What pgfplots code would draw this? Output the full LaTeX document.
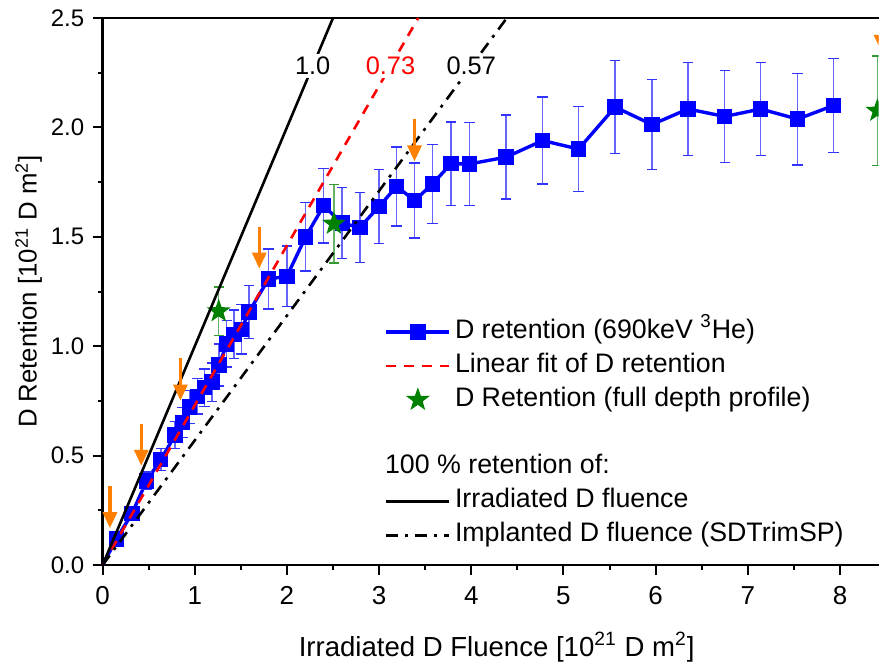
\documentclass[border=0pt]{standalone}
\usepackage{fontspec}
\setmainfont{Liberation Sans}
\usepackage{pgfplots}
\pgfplotsset{compat=1.18}
\usepackage{pgfplotstable}
\usetikzlibrary{arrows.meta,calc}
\definecolor{dblue}{RGB}{0,0,255}
\definecolor{dred}{RGB}{255,0,0}
\definecolor{dgreen}{RGB}{0,128,0}
\definecolor{darrow}{RGB}{255,128,0}

% filled five-pointed star
\pgfdeclareplotmark{fstar}{%
  \pgfpathmoveto{\pgfpointpolar{90}{\pgfplotmarksize}}%
  \pgfpathlineto{\pgfpointpolar{126}{0.4\pgfplotmarksize}}%
  \pgfpathlineto{\pgfpointpolar{162}{\pgfplotmarksize}}%
  \pgfpathlineto{\pgfpointpolar{198}{0.4\pgfplotmarksize}}%
  \pgfpathlineto{\pgfpointpolar{234}{\pgfplotmarksize}}%
  \pgfpathlineto{\pgfpointpolar{270}{0.4\pgfplotmarksize}}%
  \pgfpathlineto{\pgfpointpolar{306}{\pgfplotmarksize}}%
  \pgfpathlineto{\pgfpointpolar{342}{0.4\pgfplotmarksize}}%
  \pgfpathlineto{\pgfpointpolar{18}{\pgfplotmarksize}}%
  \pgfpathlineto{\pgfpointpolar{54}{0.4\pgfplotmarksize}}%
  \pgfpathclose\pgfusepathqfill}

\pgfplotsset{
  longlegend/.style={legend image code/.code={\draw[mark repeat=2,mark phase=2,##1] plot coordinates {(0pt,0pt) (15.75pt,0pt) (31.5pt,0pt)};}},
  starlegend/.style={legend image code/.code={\draw[##1] plot coordinates {(15.75pt,0pt)};}},
}

% D retention measured with 690 keV 3He NRA
\pgfplotstableread{
x      y      e
0.15   0.12   0.013
0.32   0.236  0.025
0.477  0.385  0.040
0.632  0.482  0.050
0.787  0.594  0.062
0.866  0.651  0.068
0.946  0.722  0.076
1.029  0.772  0.081
1.108  0.811  0.085
1.188  0.836  0.088
1.264  0.914  0.096
1.347  1.011  0.106
1.426  1.054  0.111
1.506  1.077  0.113
1.589  1.157  0.121
1.80   1.307  0.137
2.0    1.320  0.138
2.203  1.500  0.156
2.398  1.642  0.170
2.596  1.563  0.163
2.791  1.543  0.160
3.0    1.639  0.170
3.19   1.730  0.180
3.386  1.666  0.172
3.58   1.742  0.180
3.78   1.834  0.190
3.98   1.833  0.190
4.377  1.864  0.192
4.774  1.940  0.198
5.164  1.901  0.195
5.56   2.093  0.212
5.96   2.013  0.205
6.35   2.084  0.212
6.75   2.050  0.210
7.14   2.084  0.212
7.54   2.038  0.209
7.93   2.100  0.214
}\retention

% full depth profile
\pgfplotstableread{
x      y      e
1.26   1.160  0.110
2.51   1.560  0.180
8.405  2.076  0.250
}\fullprofile

% arrows marking the samples
\pgfplotstableread{
x      y      u   v
0.08   0.360  0   -0.191
0.42   0.645  0   -0.191
0.845  0.945  0   -0.193
1.70   1.545  0   -0.190
3.384  2.040  0   -0.195
8.445  2.545  0   -0.195
}\arrows

\begin{document}
\fontsize{12}{14}\selectfont
\begin{tikzpicture}
\begin{axis}[
  scale only axis,
  width=388.65pt, height=274pt,
  xmin=0, xmax=8.42,
  ymin=0, ymax=2.5,
  clip marker paths=true,
  axis x line=box, axis y line=left,
  axis line style={line width=1.3pt, -},
  every non boxed y axis/.append style={y axis line style={-}},
  xtick={0,1,...,8},
  ytick={0,0.5,...,2.5},
  minor x tick num=1, minor y tick num=1,
  tick align=outside,
  xtick pos=left, ytick pos=left,
  major tick length=5pt, minor tick length=2.5pt,
  every tick/.style={black, line width=1pt},
  yticklabel style={/pgf/number format/.cd, fixed, fixed zerofill, precision=1},
  xticklabel style={font=\fontsize{13}{15}\selectfont, yshift=-1.5pt},
  /pgf/number format/assume math mode=true,
  xlabel={Irradiated D Fluence [10\textsuperscript{21} D m\textsuperscript{2}]},
  ylabel={D Retention [10\textsuperscript{21} D m\textsuperscript{2}]},
  every axis x label/.style={at={(rel axis cs:0.5,0)}, yshift=-41pt, xshift=3pt, anchor=center,
    font=\fontsize{13.8}{15}\selectfont},
  every axis y label/.style={at={(rel axis cs:0,0.5)}, xshift=-37pt, rotate=90, anchor=center,
    font=\fontsize{12.9}{15}\selectfont},
  longlegend,
  legend style={at={(rel axis cs:0.363,0.458)}, anchor=north west, draw=none, fill=none,
    inner sep=0pt, cells={anchor=west}, font=\fontsize{13.4}{15}\selectfont,
    nodes={text height=8.8pt, text depth=2.6pt, inner ysep=2.8pt}},
]
\addplot[forget plot, dblue, line width=1.7pt]
  coordinates {(0,0) (0.15,0.12)};
\addplot[dblue, line width=1.7pt, mark=square*, mark size=3pt,
  mark options={solid, fill=dblue},
  error bars/.cd, y dir=both, y explicit,
  error bar style={line width=0.7pt, dblue!60},
  error mark options={rotate=90, mark size=2.6pt, line width=0.7pt, dblue!80}]
  table[x=x, y=y, y error=e] {\retention};
\addlegendentry{D retention (690keV \textsuperscript{3}He)}

\addplot[dred, line width=1.3pt, dash pattern=on 5pt off 4pt]
  coordinates {(0,0) (3.425,2.5)}
  node[pos=0.912, fill=white, inner sep=1.5pt, text=dred, font=\fontsize{12.7}{14}\selectfont] {0.73};
\addlegendentry{Linear fit of D retention}

\addplot[only marks, dgreen, mark=fstar, mark size=6.3pt, starlegend,
  error bars/.cd, y dir=both, y explicit,
  error bar style={line width=0.7pt, dgreen!60},
  error mark options={rotate=90, mark size=2.6pt, line width=0.7pt, dgreen!80}]
  table[x=x, y=y, y error=e] {\fullprofile};
\addlegendentry{D Retention (full depth profile)}

\addlegendimage{empty legend}
\addlegendentry{}
\addlegendimage{empty legend}
\addlegendentry{\hspace*{-35pt}100 \% retention of:}

\addplot[black, line width=1.3pt]
  coordinates {(0,0) (2.5,2.5)}
  node[pos=0.912, fill=white, inner sep=1.5pt, font=\fontsize{12.7}{14}\selectfont] {1.0};
\addlegendentry{Irradiated D fluence}

\addplot[black, line width=1.3pt, dash pattern=on 6pt off 3.5pt on 1.5pt off 3.5pt]
  coordinates {(0,0) (4.386,2.5)}
  node[pos=0.912, fill=white, inner sep=1.5pt, font=\fontsize{12.7}{14}\selectfont] {0.57};
\addlegendentry{Implanted D fluence (SDTrimSP)}

\addplot[forget plot, darrow, line width=1.6pt, -{Triangle[width=7pt,length=8pt]},
  quiver={u=\thisrow{u}, v=\thisrow{v}}]
  table[x=x, y=y] {\arrows};
\end{axis}
\path ($(current axis.south west)+(-51.35pt,-48pt)$) rectangle ($(current axis.north east)+(0pt,9pt)$);
\end{tikzpicture}
\end{document}
